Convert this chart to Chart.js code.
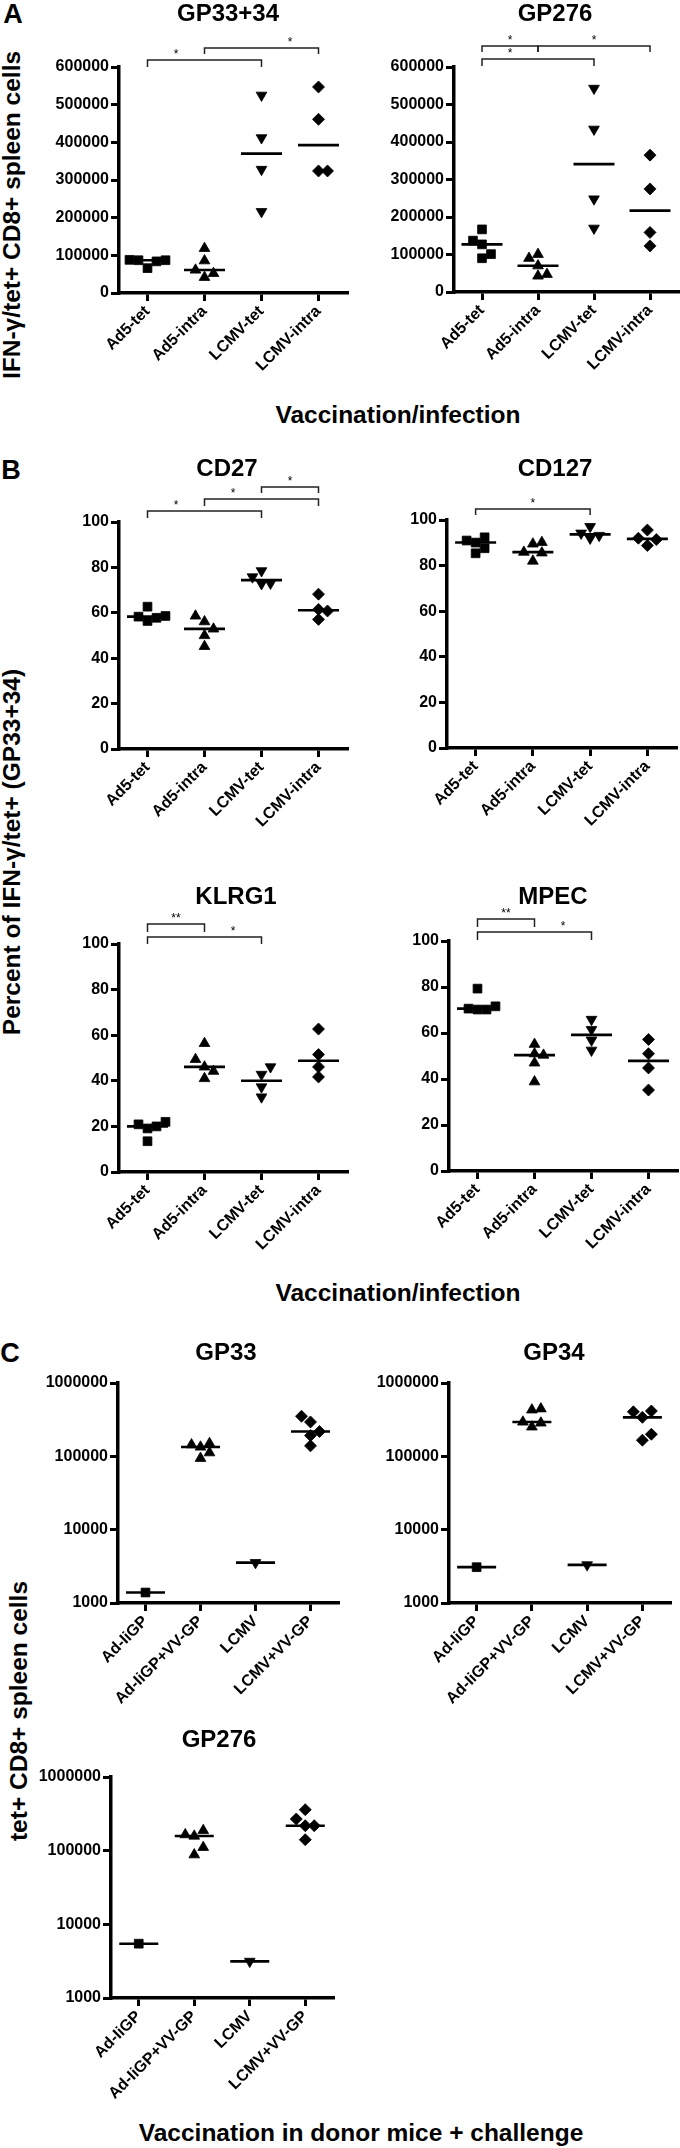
<!DOCTYPE html>
<html>
<head>
<meta charset="utf-8">
<script src="https://cdn.jsdelivr.net/npm/chart.js@4.4.1/dist/chart.umd.min.js"></script>
<style>
  body { margin: 0; background: #fff; }
  #page { position: relative; width: 680px; height: 2148px; overflow: hidden;
          font-family: 'Liberation Sans', Arial, sans-serif; font-weight: bold; color: #000; }
  .txt { position: absolute; white-space: nowrap; line-height: 1; transform: translate(-50%, -50%); }
  .rot { transform: translate(-50%, -50%) rotate(-90deg); }
  canvas { position: absolute; }
</style>
</head>
<body>
<div id="page">
  <div class="txt" style="left:13px;top:14px;font-size:27px">A</div>
  <div class="txt" style="left:11px;top:470px;font-size:27px">B</div>
  <div class="txt" style="left:10px;top:1353px;font-size:27px">C</div>

  <div class="txt rot" style="left:12px;top:215px;font-size:24.5px">IFN-γ/tet+ CD8+ spleen cells</div>
  <div class="txt rot" style="left:12px;top:852px;font-size:24.5px">Percent of IFN-γ/tet+ (GP33+34)</div>
  <div class="txt rot" style="left:19px;top:1711px;font-size:24.5px">tet+ CD8+ spleen cells</div>

  <div class="txt" style="left:398px;top:415px;font-size:24.5px">Vaccination/infection</div>
  <div class="txt" style="left:398px;top:1293px;font-size:24.5px">Vaccination/infection</div>
  <div class="txt" style="left:361px;top:2133px;font-size:24.5px">Vaccination in donor mice + challenge</div>
</div>

<script>
// groups on the x axes
const groupsAB = ['Ad5-tet', 'Ad5-intra', 'LCMV-tet', 'LCMV-intra'];
const groupsC = ['Ad-IiGP', 'Ad-IiGP+VV-GP', 'LCMV', 'LCMV+VV-GP'];

// y tick labels
const ticksA = [0, 100000, 200000, 300000, 400000, 500000, 600000];
const ticksB = [0, 20, 40, 60, 80, 100];
const ticksC = [1000, 10000, 100000, 1000000];

// A - IFN-g/tet+ CD8+ spleen cells (one list per group)
const gp3334 = [
    [87000, 88000, 66000, 87000, 84000],
    [118500, 85700, 61000, 41600, 52000],
    [525000, 412000, 328000, 216000],
    [547000, 461000, 324000, 324000]
];
const gp276A = [
    [167000, 137000, 127000, 101000, 90000],
    [100500, 90000, 70000, 42700, 47200],
    [543000, 434000, 248000, 170000],
    [365000, 275000, 159000, 123000]
];

// B - percent of IFN-g/tet+ (GP33+34)
const cd27 = [
    [58.3, 62.7, 56.4, 58.6, 57.8],
    [56.1, 52.9, 58.6, 50.0, 45.2],
    [75.8, 78.5, 73.0, 72.8],
    [68.2, 61.5, 60.8, 57.1]
];
const cd127 = [
    [90.1, 92.4, 91.0, 87.6, 85.4],
    [90.2, 89.5, 85.9, 85.6, 82.0],
    [94.2, 97.1, 92.0, 93.2],
    [95.6, 92.0, 91.4, 88.8]
];
const klrg1 = [
    [20.9, 20.0, 22.0, 19.1, 13.5],
    [56.4, 46.1, 49.4, 44.2, 41.0],
    [46.1, 42.8, 37.3, 32.9],
    [62.7, 51.5, 46.1, 41.7]
];
const mpec = [
    [79.3, 70.6, 70.2, 71.6, 70.2],
    [55.1, 50.4, 51.0, 47.0, 38.8],
    [65.9, 61.5, 56.9, 52.5],
    [57.2, 51.0, 44.8, 35.2]
];

// C - tet+ CD8+ spleen cells (log)
const gp33 = [
    [1390],
    [150000, 134000, 144000, 112000, 94000],
    [3550],
    [294000, 352000, 218000, 192000, 139000]
];
const gp34 = [
    [3080],
    [445000, 430000, 294000, 285000, 252000],
    [3310],
    [415000, 405000, 340000, 200000, 166000]
];
const gp276C = [
    [5460],
    [165000, 158000, 188000, 111000, 88000],
    [3140],
    [360000, 269000, 218000, 218000, 141000]
];

const FONT = "'Liberation Sans', Arial, sans-serif";
const page = document.getElementById('page');

// square, triangle, inverted triangle, diamond
const markers = [
    { style: 'rect', r: 6.2, rot: 0 },
    { style: 'triangle', r: 6.2, rot: 0 },
    { style: 'triangle', r: 6.2, rot: 180 },
    { style: 'rectRot', r: 6.0, rot: 0 }
];

function median(arr) {
    const s = [...arr].sort((a, b) => a - b);
    const m = Math.floor(s.length / 2);
    return s.length % 2 ? s[m] : (s[m - 1] + s[m]) / 2;
}

// spread points sitting at the same height, like a column scatter
const jitter = {
    id: 'jitter',
    afterDatasetsUpdate(chart) {
        const step = 9, near = 9;
        chart.data.datasets.forEach((ds, di) => {
            if (!ds.jitter) return;
            const pts = chart.getDatasetMeta(di).data.slice().sort((a, b) => b.y - a.y);
            const placed = [];
            let right = true;
            pts.forEach(p => {
                const base = p.x;
                const tries = [0];
                for (let k = 1; k < 6; k++) tries.push(...(right ? [k, -k] : [-k, k]));
                for (const k of tries) {
                    const x = base + k * step;
                    const hit = placed.some(q => Math.abs(q.x - x) < step - 0.5 && Math.abs(q.y - p.y) < near);
                    if (!hit) {
                        if (k !== 0) right = !right;
                        p.x = x;
                        placed.push(p);
                        break;
                    }
                }
            });
        });
    }
};

// panel title + significance brackets
const decor = {
    id: 'decor',
    afterDraw(chart, args, opts) {
        const ctx = chart.ctx;
        const xs = chart.scales.x;
        const top = chart.chartArea.top;
        ctx.save();
        ctx.fillStyle = '#000';
        ctx.font = 'bold 24px ' + FONT;
        ctx.textAlign = 'center';
        ctx.textBaseline = 'middle';
        ctx.fillText(opts.title, opts.titleX, opts.titleY);

        ctx.strokeStyle = '#222';
        ctx.lineWidth = 1.5;
        ctx.font = '12px ' + FONT;
        ctx.textBaseline = 'alphabetic';
        (opts.brackets || []).forEach(b => {
            const x1 = xs.getPixelForValue(b.from);
            const x2 = xs.getPixelForValue(b.to);
            const y = top - b.rise;
            ctx.beginPath();
            ctx.moveTo(x1, y + b.drop);
            ctx.lineTo(x1, y);
            ctx.lineTo(x2, y);
            ctx.lineTo(x2, y + b.drop);
            ctx.stroke();
            ctx.fillText(b.label, xs.getPixelForValue(b.at), y - 2);
        });
        ctx.restore();
    }
};

function makePanel(p) {
    const canvas = document.createElement('canvas');
    canvas.width = p.box.w;
    canvas.height = p.box.h;
    canvas.style.left = p.box.x + 'px';
    canvas.style.top = p.box.y + 'px';
    page.appendChild(canvas);

    const yw = p.area.l - p.box.x;
    const xh = p.box.y + p.box.h - p.area.b;
    const tickFont = { family: FONT, size: 16, weight: 'bold' };

    const datasets = p.values.map((vals, i) => ({
        data: vals.map(v => ({ x: p.groups[i], y: v })),
        jitter: true,
        pointStyle: markers[i].style,
        pointRadius: markers[i].r,
        pointRotation: markers[i].rot,
        pointBackgroundColor: '#000',
        pointBorderColor: '#000',
        pointBorderWidth: 0.8,
        clip: false
    }));
    datasets.push({
        data: p.values.map((vals, i) => ({ x: p.groups[i], y: median(vals) })),
        pointStyle: 'line',
        pointRadius: p.lineHalf,
        pointBorderWidth: 2.6,
        pointBorderColor: '#000',
        clip: false
    });

    new Chart(canvas, {
        type: 'scatter',
        data: { labels: p.groups, datasets },
        plugins: [jitter, decor],
        options: {
            responsive: false,
            animation: false,
            events: [],
            layout: {
                autoPadding: false,
                padding: { left: 0, top: p.area.t - p.box.y, right: p.box.x + p.box.w - p.area.r, bottom: 0 }
            },
            plugins: {
                legend: { display: false },
                tooltip: { enabled: false },
                decor: {
                    title: p.title,
                    titleX: p.titleAt[0] - p.box.x,
                    titleY: p.titleAt[1] - p.box.y,
                    brackets: p.brackets
                }
            },
            scales: {
                x: {
                    type: 'category',
                    offset: true,
                    afterFit: s => { s.height = xh; },
                    grid: { drawOnChartArea: false, drawTicks: true, tickLength: 8, lineWidth: 3, tickWidth: 3, color: '#000', tickColor: '#000', offset: false },
                    border: { display: true, color: '#000', width: 3.5 },
                    ticks: { color: '#000', font: tickFont, minRotation: 45, maxRotation: 45, autoSkip: false, padding: 1 }
                },
                y: {
                    type: p.log ? 'logarithmic' : 'linear',
                    min: p.ticks[0],
                    max: p.ticks[p.ticks.length - 1],
                    afterBuildTicks: s => { s.ticks = p.ticks.map(v => ({ value: v })); },
                    afterFit: s => { s.width = yw; },
                    grid: { drawOnChartArea: false, drawTicks: true, tickLength: 8, lineWidth: 3, tickWidth: 3, color: '#000', tickColor: '#000' },
                    border: { display: true, color: '#000', width: 3.5 },
                    ticks: { color: '#000', font: tickFont, padding: 2, callback: v => String(v) }
                }
            }
        }
    });
}

// ---- panel A ----
makePanel({
    title: 'GP33+34', titleAt: [228, 14], groups: groupsAB, values: gp3334, ticks: ticksA, lineHalf: 20.5,
    box: { x: 30, y: 0, w: 330, h: 395 }, area: { l: 119, t: 67, r: 347, b: 293 },
    brackets: [
        { from: 0, to: 2, rise: 7, drop: 7, label: '*', at: 0.5 },
        { from: 1, to: 3, rise: 19, drop: 6, label: '*', at: 2.5 }
    ]
});
makePanel({
    title: 'GP276', titleAt: [555, 14], groups: groupsAB, values: gp276A, ticks: ticksA, lineHalf: 20.5,
    box: { x: 365, y: 0, w: 315, h: 395 }, area: { l: 454, t: 67, r: 678, b: 292 },
    brackets: [
        { from: 0, to: 1, rise: 21, drop: 6, label: '*', at: 0.5 },
        { from: 0, to: 2, rise: 8, drop: 7, label: '*', at: 0.5 },
        { from: 1, to: 3, rise: 21, drop: 6, label: '*', at: 2 }
    ]
});

// ---- panel B ----
makePanel({
    title: 'CD27', titleAt: [227, 469], groups: groupsAB, values: cd27, ticks: ticksB, lineHalf: 20.5,
    box: { x: 30, y: 440, w: 330, h: 400 }, area: { l: 119, t: 522, r: 347, b: 749 },
    brackets: [
        { from: 0, to: 2, rise: 11, drop: 7, label: '*', at: 0.5 },
        { from: 1, to: 3, rise: 23, drop: 7, label: '*', at: 1.5 },
        { from: 2, to: 3, rise: 35, drop: 6, label: '*', at: 2.5 }
    ]
});
makePanel({
    title: 'CD127', titleAt: [555, 469], groups: groupsAB, values: cd127, ticks: ticksB, lineHalf: 20.5,
    box: { x: 365, y: 440, w: 315, h: 400 }, area: { l: 447, t: 520, r: 676, b: 748 },
    brackets: [
        { from: 0, to: 2, rise: 11, drop: 6, label: '*', at: 1 }
    ]
});
makePanel({
    title: 'KLRG1', titleAt: [236, 897], groups: groupsAB, values: klrg1, ticks: ticksB, lineHalf: 20.5,
    box: { x: 30, y: 870, w: 330, h: 400 }, area: { l: 119, t: 944, r: 347, b: 1172 },
    brackets: [
        { from: 0, to: 1, rise: 20, drop: 8, label: '**', at: 0.5 },
        { from: 0, to: 2, rise: 7, drop: 7, label: '*', at: 1.5 }
    ]
});
makePanel({
    title: 'MPEC', titleAt: [553, 897], groups: groupsAB, values: mpec, ticks: ticksB, lineHalf: 20.5,
    box: { x: 365, y: 870, w: 315, h: 400 }, area: { l: 449, t: 941, r: 677, b: 1171 },
    brackets: [
        { from: 0, to: 1, rise: 22, drop: 8, label: '**', at: 0.5 },
        { from: 0, to: 2, rise: 9, drop: 8, label: '*', at: 1.5 }
    ]
});

// ---- panel C ----
makePanel({
    title: 'GP33', titleAt: [226, 1353], groups: groupsC, values: gp33, ticks: ticksC, log: true, lineHalf: 19.5,
    box: { x: 30, y: 1320, w: 330, h: 400 }, area: { l: 118, t: 1383, r: 338, b: 1603 }
});
makePanel({
    title: 'GP34', titleAt: [554, 1353], groups: groupsC, values: gp34, ticks: ticksC, log: true, lineHalf: 19.5,
    box: { x: 365, y: 1320, w: 315, h: 400 }, area: { l: 449, t: 1383, r: 670, b: 1603 }
});
makePanel({
    title: 'GP276', titleAt: [219, 1740], groups: groupsC, values: gp276C, ticks: ticksC, log: true, lineHalf: 19.5,
    box: { x: 20, y: 1715, w: 330, h: 400 }, area: { l: 111, t: 1777, r: 333, b: 1998 }
});
</script>
</body>
</html>
